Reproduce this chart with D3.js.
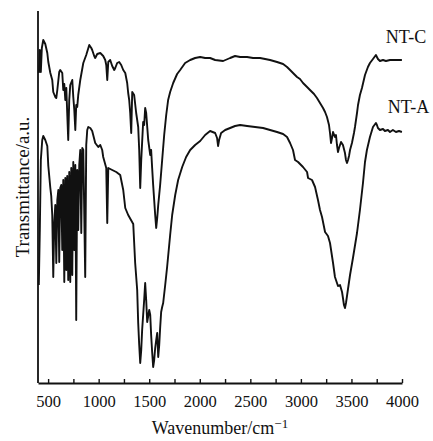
<!DOCTYPE html>
<html>
<head>
<meta charset="utf-8">
<script src="https://cdn.jsdelivr.net/npm/d3@7"></script>
<style>
  body { margin: 0; background: #fff; }
  text { font-family: "Liberation Serif", "Times New Roman", serif; fill: #111; }
  .curve { fill: none; stroke: #111; stroke-width: 1.9; stroke-linejoin: round; }
</style>
</head>
<body>
<svg></svg>
<script>
// Spectra: wavenumber (cm-1) and transmittance (a.u.)
const ntcWave = [408,418,428,438,452,472,492,502,522,541,551,571,581,591,610,620,640,650,660,670,680,689,699,709,719,739,749,759,769,778,788,798,818,848,877,907,927,936,956,966,986,1016,1045,1065,1075,1085,1095,1114,1134,1154,1164,1183,1203,1223,1243,1263,1282,1292,1302,1312,1322,1332,1351,1371,1391,1401,1411,1421,1440,1450,1460,1470,1490,1510,1519,1529,1539,1549,1559,1569,1579,1589,1608,1628,1648,1668,1687,1707,1737,1776,1806,1855,1905,1954,2004,2053,2102,2152,2231,2300,2349,2399,2468,2527,2596,2646,2695,2764,2824,2863,2893,2932,2962,2991,3021,3061,3090,3130,3159,3189,3219,3239,3258,3278,3288,3298,3308,3318,3337,3347,3357,3367,3377,3397,3416,3436,3446,3456,3466,3476,3486,3505,3525,3535,3555,3565,3584,3604,3634,3663,3683,3713,3742,3762,3782,3812,3841,3881,3930,3999];
const ntcT = [77.5,83.25,77.75,83.75,85.75,84.75,82.5,80.25,77.5,75.75,72.75,71.5,71.25,73.25,77.75,78.25,77.5,73.25,74.75,70.75,73.75,67.5,60.75,70.75,74.5,75.75,71.5,68.25,63.25,69.5,69,72,75.75,80,82,84.5,83.75,83.25,81.75,81.25,82.25,82.5,81.75,80.75,79.5,75.75,80.25,80.75,79.25,78.25,78.75,80,80.25,79.5,78.25,77.5,75,72.5,70.75,67.5,62.5,72.75,72,67.5,64,58.25,48.75,55.75,65.25,64.5,68.75,67.5,60.75,57,58.25,53.75,49.5,45.75,42,38.75,41.25,44.5,49.5,55.75,62,67,70.75,72.75,75,77.25,78.25,80,80.75,81.25,81.5,81.25,81.25,80.75,80.5,81.25,81.75,81.5,81.5,81.25,81.25,81,80.75,80.25,79.75,79,78.25,77.25,76.5,76,75,74,73.25,72.25,71.25,70,68.75,67.75,66.5,64.5,62.5,60,61.25,62.75,61.5,62,59.5,57.75,58.75,60.25,59.5,57.5,55.75,55,55.75,56.75,58.25,60,62.5,64,67.5,69.5,72,73.75,77,79,80,81,82,81,80.5,80.75,80.5,80.75,80.75,80.75];

const ntaWave = [408,418,428,442,452,472,492,502,522,531,541,551,561,571,581,591,601,610,620,630,640,650,660,670,680,689,699,709,719,729,739,749,759,769,778,788,798,808,818,828,838,848,867,877,887,897,917,936,966,996,1016,1035,1045,1075,1085,1095,1134,1174,1213,1243,1263,1292,1342,1361,1381,1391,1401,1411,1421,1430,1450,1460,1470,1480,1500,1510,1519,1529,1539,1549,1559,1569,1579,1589,1599,1608,1618,1628,1638,1658,1677,1707,1727,1757,1786,1826,1865,1905,1954,2004,2053,2102,2152,2171,2181,2191,2211,2251,2300,2349,2399,2468,2547,2626,2695,2764,2824,2863,2893,2922,2942,2972,3021,3061,3071,3110,3140,3169,3189,3209,3239,3268,3288,3318,3337,3357,3367,3387,3407,3416,3426,3436,3446,3456,3486,3515,3555,3584,3614,3634,3653,3683,3713,3742,3752,3762,3782,3812,3831,3861,3881,3910,3940,3970,3999];
const ntaT = [24.5,38.25,55.75,60.75,61.75,60.75,59.25,54.25,48.75,46.75,42,26.5,40.25,44.5,30,45.75,48.25,30.25,48.75,49.5,33.25,50.75,25.25,51.25,28.25,51.75,25.75,52.75,25.25,53.75,27,55.25,33.25,54.5,15.75,53.25,38.25,54.5,58.25,37.5,58.75,58.25,26.5,59.5,63.25,64,63.75,63,60,59,59.5,58.25,56.5,53.75,40,53.75,53.25,52.75,52,48.25,43.75,42,39.75,30,23.25,15,9.5,5,8.25,13.25,20.75,25,20.75,15.25,18.25,17,12,7.75,4,5.75,8.75,10.75,12.5,6.5,9.5,13.75,17.75,19,20,24.5,29,37,42,47,50.75,54,56.5,58.25,59.5,60.5,62,63,62.5,61.25,59.25,60.75,62.5,63.25,63.75,64.25,64.5,64.25,64,63.75,63.25,62.75,62.25,61.5,60,58.25,55.75,55.25,54,52.75,51.25,50.75,49,45.75,43.25,41.5,37.75,36.75,35,30,26.5,25,24.25,24.5,22.75,21.25,19.5,18.75,20,21.75,27,31.25,37.5,43.25,50,55.25,58.25,61.5,64,65,64.5,63.75,63.25,63.5,63,63.25,62.75,63.25,62.75,63,62.75];

const majorTicks = [500,1000,1500,2000,2500,3000,3500,4000];
const minorTicks = [750,1250,1750,2250,2750,3250,3750];

const W = 433, H = 441;
const margin = {top: 11, right: 31, bottom: 58, left: 38};
const width = W - margin.left - margin.right,
      height = H - margin.top - margin.bottom;

const svg = d3.select("svg")
    .attr("width", W)
    .attr("height", H)
  .append("g")
    .attr("transform", `translate(${margin.left},${margin.top})`);

const x = d3.scaleLinear().domain([400, 4000]).range([0, width]);
const y = d3.scaleLinear().domain([0, 93]).range([height, 0]);

// x axis, ticks pointing inward
const xAxis = svg.append("g")
    .attr("transform", `translate(0,${height})`)
    .call(d3.axisBottom(x)
        .tickValues(majorTicks.concat(minorTicks))
        .tickSizeInner(-4)
        .tickSizeOuter(0)
        .tickPadding(12)
        .tickFormat(d => majorTicks.includes(d) ? d : ""));
xAxis.select(".domain").attr("stroke", "#111").attr("stroke-width", 1.8);
xAxis.selectAll(".tick line").attr("stroke", "#111").attr("stroke-width", 1.4);
xAxis.selectAll(".tick text")
    .style("font-size", "16.5px")
    .attr("fill", "#111");

// y axis: plain line
svg.append("line")
    .attr("x1", 0).attr("x2", 0)
    .attr("y1", 0).attr("y2", height)
    .attr("stroke", "#111")
    .attr("stroke-width", 1.8);

const line = d3.line()
    .x(d => x(d[0]))
    .y(d => y(d[1]));

svg.append("path")
    .attr("class", "curve")
    .attr("d", line(d3.zip(ntcWave, ntcT)));

svg.append("path")
    .attr("class", "curve")
    .attr("d", line(d3.zip(ntaWave, ntaT)));

// series labels
svg.append("text")
    .attr("x", x(3840)).attr("y", y(85))
    .style("font-size", "18px")
    .text("NT-C");
svg.append("text")
    .attr("x", x(3860)).attr("y", y(67.5))
    .style("font-size", "18px")
    .text("NT-A");

// axis titles
const xt = svg.append("text")
    .attr("x", width / 2)
    .attr("y", height + 51)
    .attr("text-anchor", "middle")
    .style("font-size", "18px");
xt.append("tspan").text("Wavenumber/cm");
xt.append("tspan").attr("dy", "-6").style("font-size", "13px").text("\u22121");

svg.append("text")
    .attr("transform", `translate(${-9},${height / 2 - 10}) rotate(-90)`)
    .attr("text-anchor", "middle")
    .style("font-size", "19px")
    .text("Transmittance/a.u.");
</script>
</body>
</html>
